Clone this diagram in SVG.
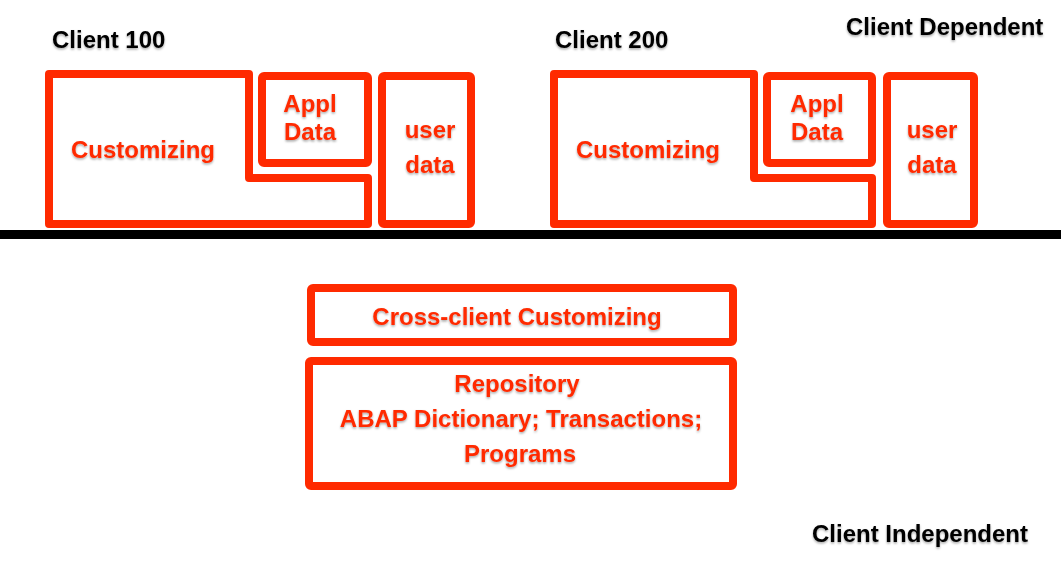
<svg xmlns="http://www.w3.org/2000/svg" width="1061" height="570" viewBox="0 0 1061 570">
<defs>
<filter id="sh" x="-10%" y="-30%" width="120%" height="160%">
<feDropShadow dx="0" dy="1.5" stdDeviation="1" flood-color="#000" flood-opacity="0.35"/>
</filter>
<style>
.box{fill:none;stroke:#ff2a00;stroke-width:8;stroke-linejoin:round}
.rt{font-family:"Liberation Sans",Arial,sans-serif;font-weight:bold;font-size:24px;fill:#ff2a00;text-anchor:middle;filter:url(#sh)}
.bt{font-family:"Liberation Sans",Arial,sans-serif;font-weight:bold;font-size:24px;fill:#000;filter:url(#sh)}
</style>
</defs>
<rect width="1061" height="570" fill="#fff"/>
<g id="divider"><rect x="0" y="230" width="1061" height="9" fill="#000"/></g>
<g id="labels">
<text class="bt" x="52" y="48">Client 100</text>
<text class="bt" x="555" y="48">Client 200</text>
<text class="bt" x="846" y="35">Client Dependent</text>
<text class="bt" x="812" y="542">Client Independent</text>
</g>
<g id="c100-customizing">
<path class="box" d="M49,74 H249 V178 H368 V224 H49 Z"/>
<text class="rt" x="143" y="158">Customizing</text>
</g>
<g id="c100-appl">
<rect class="box" x="262" y="76" width="106" height="87" rx="2"/>
<text class="rt" x="310" y="112">Appl</text>
<text class="rt" x="310" y="140">Data</text>
</g>
<g id="c100-user">
<rect class="box" x="382" y="76" width="89" height="148" rx="2"/>
<text class="rt" x="430" y="138">user</text>
<text class="rt" x="430" y="173">data</text>
</g>
<g id="c200-customizing">
<path class="box" d="M554,74 H754 V178 H872 V224 H554 Z"/>
<text class="rt" x="648" y="158">Customizing</text>
</g>
<g id="c200-appl">
<rect class="box" x="767" y="76" width="105" height="87" rx="2"/>
<text class="rt" x="817" y="112">Appl</text>
<text class="rt" x="817" y="140">Data</text>
</g>
<g id="c200-user">
<rect class="box" x="887" y="76" width="87" height="148" rx="2"/>
<text class="rt" x="932" y="138">user</text>
<text class="rt" x="932" y="173">data</text>
</g>
<g id="cross-client">
<rect class="box" x="311" y="288" width="422" height="54" rx="2"/>
<text class="rt" x="517" y="325">Cross-client Customizing</text>
</g>
<g id="repository">
<rect class="box" x="309" y="361" width="424" height="125" rx="2"/>
<text class="rt" x="517" y="392">Repository</text>
<text class="rt" x="521" y="427">ABAP Dictionary; Transactions;</text>
<text class="rt" x="520" y="462">Programs</text>
</g>
</svg>
